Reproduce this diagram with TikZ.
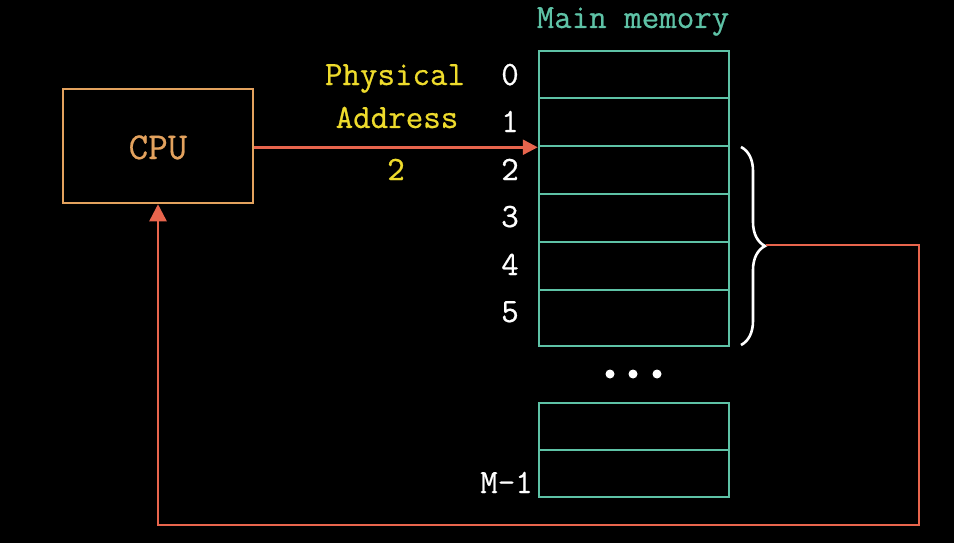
\documentclass[tikz,border=0pt]{standalone}
\usepackage{fontspec}
\newfontfamily\mtt{Latin Modern Mono}[FakeBold=0.6]
\usetikzlibrary{arrows.meta,decorations.pathreplacing}
\definecolor{cpuc}{HTML}{E3A25E}
\definecolor{memc}{HTML}{5EC2A6}
\definecolor{addc}{HTML}{EEDB2C}
\definecolor{arrc}{HTML}{E8654D}
\begin{document}
\begin{tikzpicture}[x=1pt,y=-1pt,
  txt/.style={anchor=base,inner sep=0pt,font=\mtt\fontsize{34}{40}\selectfont},
  cell/.style={draw=memc,line width=2.5pt,minimum width=190pt,inner sep=0pt},
  conn/.style={draw=arrc,line width=2.5pt,-{Triangle[length=15pt,width=15pt]}}]
\fill[black] (0,0) rectangle (954,543);
\useasboundingbox (0,0) rectangle (954,543);
% CPU
\node[draw=cpuc,line width=2.5pt,minimum width=190pt,minimum height=114pt,inner sep=0pt] (cpu) at (158,146) {};
\node[txt,text=cpuc,font=\mtt\fontsize{38}{44}\selectfont] (cput) at (158,159) {CPU};
% memory cells
\node[cell,minimum height=47pt] (c0) at (634,74.5) {};
\node[cell,minimum height=48pt] (c1) at (634,122) {};
\node[cell,minimum height=48pt] (c2) at (634,170) {};
\node[cell,minimum height=48pt] (c3) at (634,218) {};
\node[cell,minimum height=48pt] (c4) at (634,266) {};
\node[cell,minimum height=56pt] (c5) at (634,318) {};
\node[cell,minimum height=47pt] (d0) at (634,426.5) {};
\node[cell,minimum height=47pt] (d1) at (634,473.5) {};
\node[txt,text=memc] (title) at (633,28) {Main memory};
% indices
\node[txt,text=white] (i0) at (510,85) {0};
\node[txt,text=white] (i1) at (510,132) {1};
\node[txt,text=white] (i2) at (510,180) {2};
\node[txt,text=white] (i3) at (510,227) {3};
\node[txt,text=white] (i4) at (510,275) {4};
\node[txt,text=white] (i5) at (510,322) {5};
\node[txt,text=white,anchor=base east] (im) at (533,493) {M-1};
% dots
\fill[white] (610,374) circle (4.5) (633,374) circle (4.5) (657,374) circle (4.5);
% address labels
\node[txt,text=addc] (pa1) at (395,85) {Physical};
\node[txt,text=addc] (pa2) at (397,128) {Address};
\node[txt,text=addc] (pa3) at (396,180) {2};
% arrow CPU -> memory
\draw[conn] (cpu.east |- c1.south) -- (c1.south west);
% brace
\draw[white,line width=2.6pt,decorate,decoration={brace,amplitude=24pt}] (741,147) -- (741,345);
\coordinate (bt) at (766,245);
\coordinate (rc) at (919,525);
\draw[conn,-{Triangle[length=17pt,width=17pt]}] (bt) -| (rc) -| (cpu.south);
\end{tikzpicture}
\end{document}
